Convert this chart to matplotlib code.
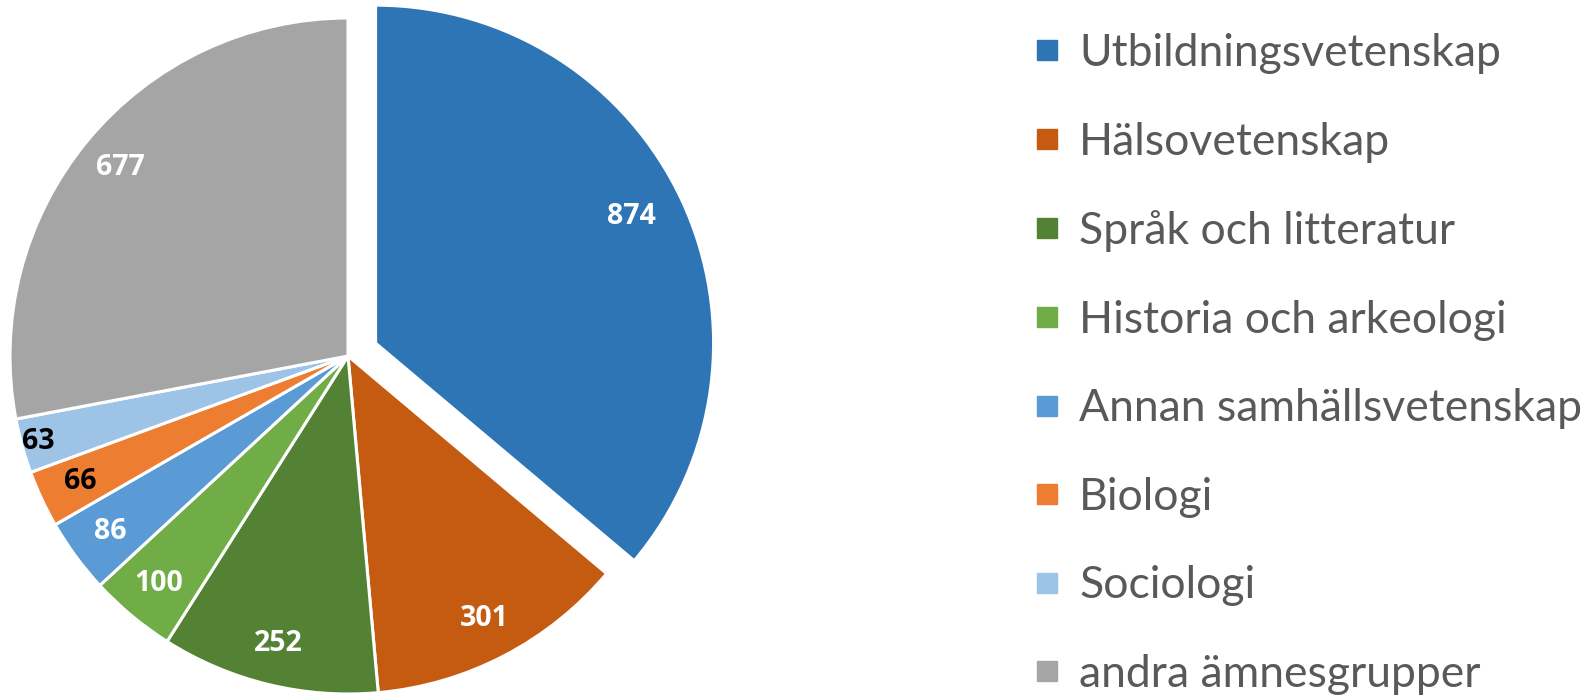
import numpy as np
import matplotlib.pyplot as plt
from matplotlib.lines import Line2D

# data
categories = ['Utbildningsvetenskap', 'Hälsovetenskap', 'Språk och litteratur',
              'Historia och arkeologi', 'Annan samhällsvetenskap', 'Biologi',
              'Sociologi', 'andra ämnesgrupper']
values = [874, 301, 252, 100, 86, 66, 63, 677]
colors = ['#2E75B6', '#C55A11', '#548235', '#70AD47', '#5B9BD5', '#ED7D31', '#9DC3E6', '#A5A5A5']
label_colors = ['white', 'white', 'white', 'white', 'white', 'black', 'black', 'white']

W, H = 1587, 699
fig = plt.figure(figsize=(W / 100, H / 100), dpi=100)
ax = fig.add_axes([0, 0, 1, 1])

# pie center / radius in pixels
cx, cy, r = 348, 356, 338

total = sum(values)
explode = [0.09, 0, 0, 0, 0, 0, 0, 0]
wedges, texts, autotexts = ax.pie(
    values, colors=colors, startangle=90, counterclock=False, explode=explode,
    autopct=lambda p: f'{round(p * total / 100):.0f}', pctdistance=0.875,
    wedgeprops=dict(edgecolor='white', linewidth=2.2),
    textprops=dict(fontsize=20.5, fontweight='bold', family='Open Sans'))

for t, c in zip(autotexts, label_colors):
    t.set_color(c)

# the thin Sociologi label sits a bit further out, the exploded one a bit in
x, y = autotexts[6].get_position()
autotexts[6].set_position((x * 0.95 / 0.875, y * 0.95 / 0.875))
x, y = autotexts[0].get_position()
autotexts[0].set_position((x - 0.035, y + 0.005))

ax.set_aspect('auto')
ax.set_xlim(-cx / r, (W - cx) / r)
ax.set_ylim(-(H - cy) / r, cy / r)
ax.axis('off')

handles = [Line2D([], [], marker='s', linestyle='none', markersize=15,
                  markerfacecolor=c, markeredgecolor=c) for c in colors]
leg = ax.legend(handles, categories, loc='upper left',
                bbox_to_anchor=(1035 / W, 1 - 33 / H), bbox_transform=fig.transFigure,
                frameon=False, handlelength=0.525, handletextpad=0.47,
                labelspacing=1.07, borderaxespad=0, borderpad=0,
                prop=dict(family='Lato', size=32))
for t in leg.get_texts():
    t.set_color('#595959')

fig.savefig('out.png', dpi=100)
